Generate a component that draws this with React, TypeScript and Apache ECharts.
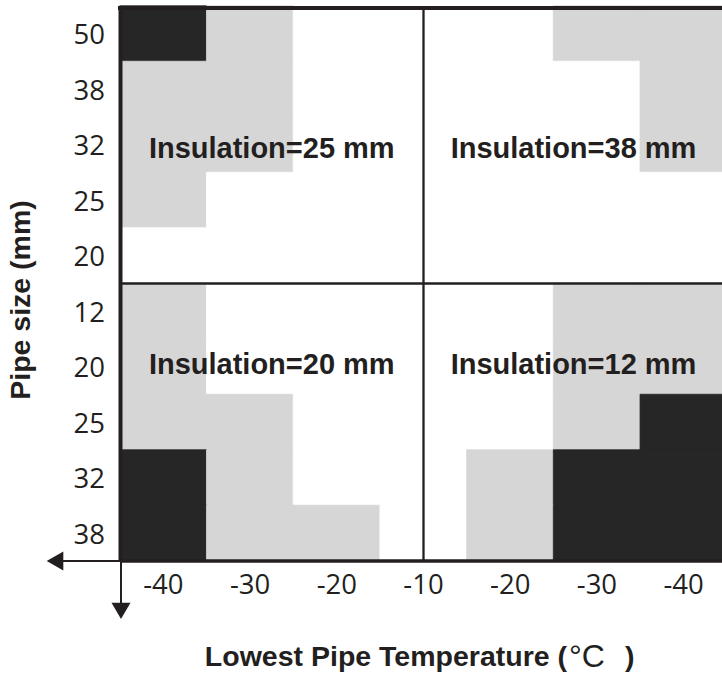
import React, { useEffect, useRef } from "react";
import * as echarts from "echarts";

const xLabels = ["-40", "-30", "-20", "-10", "-20", "-30", "-40"];
const yLabels = ["50", "38", "32", "25", "20", "12", "20", "25", "32", "38"];
// 0 = white, 1 = light gray, 2 = dark (rows top to bottom, columns left to right)
const levels = [
  [2, 1, 0, 0, 0, 1, 1],
  [1, 1, 0, 0, 0, 0, 1],
  [1, 1, 0, 0, 0, 0, 1],
  [1, 0, 0, 0, 0, 0, 0],
  [0, 0, 0, 0, 0, 0, 0],
  [1, 0, 0, 0, 0, 1, 1],
  [1, 0, 0, 0, 0, 1, 1],
  [1, 1, 0, 0, 0, 1, 2],
  [2, 1, 0, 0, 1, 2, 2],
  [2, 1, 1, 0, 1, 2, 2],
];
const quadrantLabels = [
  "Insulation=25 mm",
  "Insulation=38 mm",
  "Insulation=20 mm",
  "Insulation=12 mm",
];
const xTitleParts = ["Lowest Pipe Temperature (", "°C", ")"];
const yTitle = "Pipe size (mm)";
const levelColors = ["#ffffff", "#d6d6d6", "#262626"];

export default function App() {
  const ref = useRef<HTMLDivElement>(null);
  useEffect(() => {
    if (!ref.current) return;
    const chart = echarts.init(ref.current, null, { renderer: "svg" });
    const L = 120;
    const T = 6;
    const W = 607;
    const H = 555;
    const B = T + H;
    const colW = W / xLabels.length;
    const rowH = H / yLabels.length;
    const ink = "#231f20";

    const data: any[] = [];
    levels.forEach((row, yi) =>
      row.forEach((v, xi) => {
        data.push({
          value: [xi, yi, v],
          itemStyle: { borderColor: levelColors[v], borderWidth: 0.8 },
        });
      })
    );

    const bold = "'Liberation Sans', Arial, sans-serif";
    const qPos = [
      [L + colW * 1.75, T + rowH * 2.55],
      [L + colW * 5.23, T + rowH * 2.55],
      [L + colW * 1.75, T + rowH * 6.45],
      [L + colW * 5.23, T + rowH * 6.45],
    ];

    chart.setOption({
      animation: false,
      visualMap: {
        type: "piecewise",
        show: false,
        seriesIndex: 0,
        dimension: 2,
        pieces: levelColors.map((c, i) => ({ value: i, color: c })),
      },
      grid: {
        left: L,
        top: T,
        width: W,
        height: H,
        containLabel: false,
        outerBoundsMode: "none",
      },
      xAxis: [
        {
          type: "category",
          data: xLabels,
          position: "bottom",
          axisLine: { show: false },
          axisTick: { show: false },
          splitLine: { show: false },
          axisLabel: {
            fontSize: 27.5,
            color: ink,
            fontFamily: "'Open Sans', sans-serif",
            margin: 8,
            interval: 0,
          },
        },
        { type: "value", min: 0, max: 7, show: false },
      ],
      yAxis: [
        {
          type: "category",
          data: yLabels,
          inverse: true,
          axisLine: { show: false },
          axisTick: { show: false },
          splitLine: { show: false },
          axisLabel: {
            fontSize: 27.5,
            color: ink,
            fontFamily: "'Open Sans', sans-serif",
            margin: 15,
            interval: 0,
          },
        },
        { type: "value", min: 0, max: 10, inverse: true, show: false },
      ],
      series: [
        {
          type: "heatmap",
          data,
          xAxisIndex: 0,
          yAxisIndex: 0,
          emphasis: { disabled: true },
          z: 1,
        },
        {
          type: "line",
          xAxisIndex: 1,
          yAxisIndex: 1,
          data: [
            [3.5, 0],
            [3.5, 10],
          ],
          symbol: "none",
          lineStyle: { color: ink, width: 2.3 },
          z: 5,
        },
        {
          type: "line",
          xAxisIndex: 1,
          yAxisIndex: 1,
          data: [
            [0, 5],
            [7, 5],
          ],
          symbol: "none",
          lineStyle: { color: ink, width: 2.3 },
          z: 5,
        },
      ],
      graphic: [
        // borders
        { type: "line", z: 10, shape: { x1: L - 2, y1: T + 2, x2: 730, y2: T + 2 }, style: { stroke: ink, lineWidth: 4 } },
        { type: "line", z: 10, shape: { x1: L + 0.5, y1: T, x2: L + 0.5, y2: B + 1 }, style: { stroke: ink, lineWidth: 4 } },
        { type: "line", z: 10, shape: { x1: L, y1: B, x2: 730, y2: B }, style: { stroke: ink, lineWidth: 3.5 } },
        // axis stems and arrows
        { type: "line", z: 10, shape: { x1: 60, y1: B, x2: L, y2: B }, style: { stroke: ink, lineWidth: 2 } },
        { type: "polygon", z: 10, shape: { points: [[46.7, B], [63.3, B - 9.5], [63.3, B + 9.5]] }, style: { fill: ink } },
        { type: "line", z: 10, shape: { x1: L + 1, y1: B, x2: L + 1, y2: 606 }, style: { stroke: ink, lineWidth: 2 } },
        { type: "polygon", z: 10, shape: { points: [[L + 1, 619], [L + 1 - 9.5, 602.7], [L + 1 + 9.5, 602.7]] }, style: { fill: ink } },
        // quadrant labels
        ...quadrantLabels.map((t, i) => ({
          type: "text",
          z: 12,
          x: qPos[i][0],
          y: qPos[i][1],
          style: {
            text: t,
            fontSize: 29,
            fontWeight: "bold",
            fontFamily: bold,
            fill: ink,
            align: "center",
            verticalAlign: "middle",
          },
        })),
        // x axis title
        {
          type: "text",
          z: 12,
          x: 567,
          y: 656,
          style: {
            text: xTitleParts[0],
            fontSize: 28.5,
            fontWeight: "bold",
            fontFamily: bold,
            fill: ink,
            align: "right",
            verticalAlign: "middle",
          },
        },
        {
          type: "text",
          z: 12,
          x: 569,
          y: 656,
          style: {
            text: xTitleParts[1],
            fontSize: 32,
            fontWeight: "normal",
            fontFamily: "'Liberation Sans', Arial, sans-serif",
            fill: ink,
            align: "left",
            verticalAlign: "middle",
          },
        },
        {
          type: "text",
          z: 12,
          x: 625,
          y: 656,
          style: {
            text: xTitleParts[2],
            fontSize: 28.5,
            fontWeight: "bold",
            fontFamily: bold,
            fill: ink,
            align: "left",
            verticalAlign: "middle",
          },
        },
        // y axis title
        {
          type: "text",
          z: 12,
          x: 20,
          y: 300,
          rotation: Math.PI / 2,
          style: {
            text: yTitle,
            fontSize: 28.5,
            fontWeight: "bold",
            fontFamily: bold,
            fill: ink,
            align: "center",
            verticalAlign: "middle",
          },
        },
      ],
    });
    return () => chart.dispose();
  }, []);
  return (
    <div
      style={{
        position: "fixed",
        left: 0,
        top: 0,
        width: 722,
        height: 673,
        overflow: "hidden",
        background: "#fff",
      }}
    >
      <div ref={ref} style={{ width: 730, height: 673 }} />
    </div>
  );
}
